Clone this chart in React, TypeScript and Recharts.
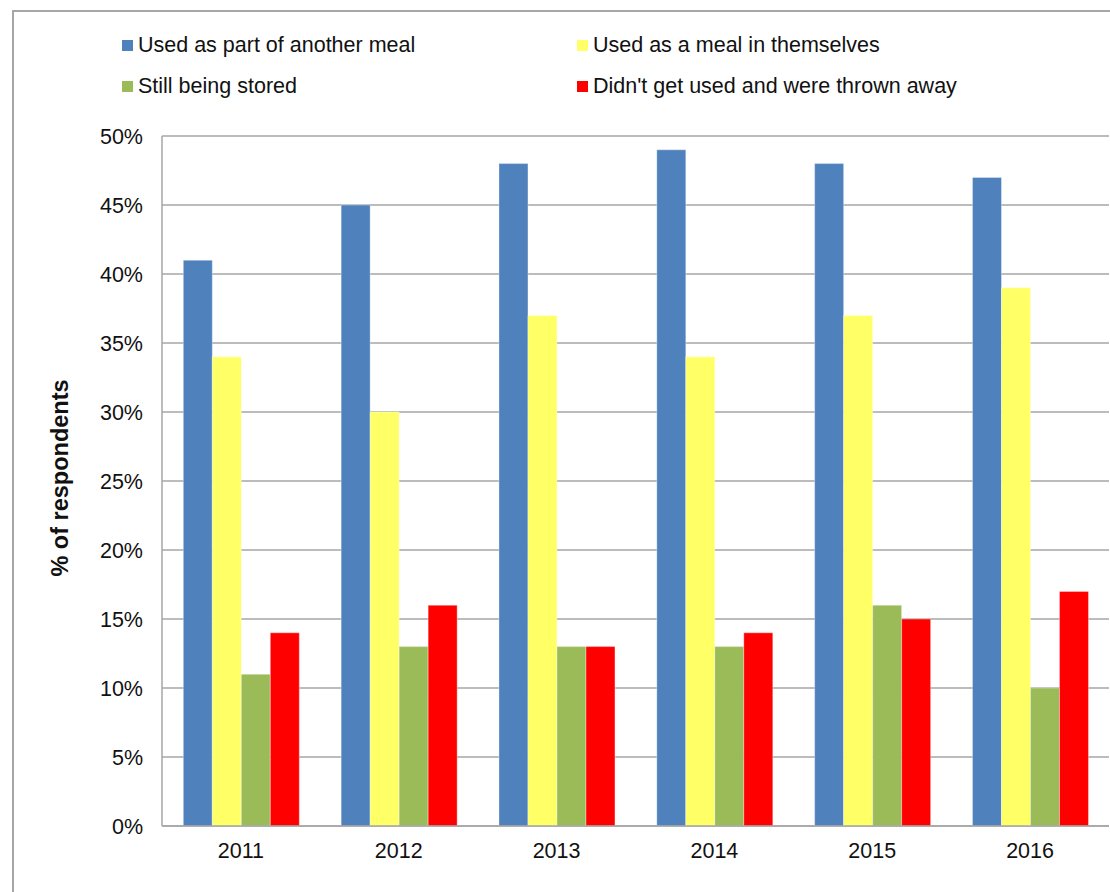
import React from 'react';
import { BarChart, Bar, XAxis, YAxis, CartesianGrid, Legend, Label } from 'recharts';

const years = ['2011', '2012', '2013', '2014', '2015', '2016'];
const usedAsPart = [41, 45, 48, 49, 48, 47];
const usedAsMeal = [34, 30, 37, 34, 37, 39];
const stillStored = [11, 13, 13, 13, 16, 10];
const thrownAway = [14, 16, 13, 14, 15, 17];
const yTicks = [0, 5, 10, 15, 20, 25, 30, 35, 40, 45, 50];

const seriesNames = [
  'Used as part of another meal',
  'Used as a meal in themselves',
  'Still being stored',
  "Didn't get used and were thrown away",
];
const seriesColors = ['#4F81BD', '#FFFF66', '#9BBB59', '#FF0000'];
const seriesKeys = ['part', 'meal', 'stored', 'thrown'];

const data = years.map((year, i) => ({
  year,
  part: usedAsPart[i],
  meal: usedAsMeal[i],
  stored: stillStored[i],
  thrown: thrownAway[i],
}));

const FONT = '"Liberation Sans", Arial, sans-serif';

// legend layout: 2x2 grid (blue, yellow / green, red)
const legendPos = [
  { left: 122, top: 45 },
  { left: 577, top: 45 },
  { left: 122, top: 86 },
  { left: 577, top: 86 },
];

const renderLegend = (props: any) => {
  const payload = props.payload || [];
  return (
    <div style={{ position: 'relative', width: 1110, height: 0 }}>
      {payload.map((p: any, j: number) => {
        let i = seriesNames.indexOf(p.value);
        if (i < 0) i = j;
        return (
          <div
            key={p.value}
            style={{
              position: 'absolute',
              left: legendPos[i].left,
              top: legendPos[i].top - 14,
              height: 28,
              display: 'flex',
              alignItems: 'center',
              whiteSpace: 'nowrap',
              fontFamily: FONT,
              fontSize: 21.5,
              color: '#111',
            }}
          >
            <span
              style={{
                display: 'inline-block',
                width: 11,
                height: 11,
                background: seriesColors[i],
                marginRight: 5,
              }}
            />
            <span>{p.value}</span>
          </div>
        );
      })}
    </div>
  );
};

export default function App() {
  return (
    <div
      style={{
        position: 'absolute',
        left: 0,
        top: 0,
        width: 1110,
        height: 892,
        background: '#fff',
        overflow: 'hidden',
      }}
    >
      <div
        style={{
          position: 'absolute',
          left: 12,
          top: 10,
          width: 1120,
          height: 900,
          borderTop: '2px solid #a6a6a6',
          borderLeft: '2px solid #a6a6a6',
        }}
      />
      <div style={{ position: 'absolute', left: 0, top: 0 }}>
        <BarChart
          width={1110}
          height={892}
          data={data}
          margin={{ top: 136, right: 1, bottom: 36, left: 0 }}
          barCategoryGap="13.5%"
          barGap={0}
        >
          <CartesianGrid vertical={false} stroke="#a6a6a6" strokeWidth={1.5} />
          <XAxis
            dataKey="year"
            height={30}
            tickLine={false}
            tickSize={0}
            tickMargin={17}
            axisLine={{ stroke: '#a6a6a6', strokeWidth: 1.5 }}
            tick={{ fill: '#111', fontSize: 21.5, fontFamily: FONT }}
          />
          <YAxis
            width={162}
            domain={[0, 50]}
            ticks={yTicks}
            interval={0}
            tickFormatter={(v: number) => `${v}%`}
            tickLine={false}
            tickSize={0}
            tickMargin={19}
            axisLine={{ stroke: '#a6a6a6', strokeWidth: 1.5 }}
            tick={{ fill: '#111', fontSize: 21.5, fontFamily: FONT }}
          >
            <Label
              value="% of respondents"
              angle={-90}
              position="insideLeft"
              offset={60}
              dy={-3}
              style={{
                textAnchor: 'middle',
                fontWeight: 'bold',
                fontSize: 23.5,
                fontFamily: FONT,
                fill: '#111',
              }}
            />
          </YAxis>
          <Legend
            content={renderLegend}
            wrapperStyle={{ left: 0, top: 0, width: 1110, height: 0 }}
          />
          {seriesKeys.map((k, i) => (
            <Bar
              key={k}
              dataKey={k}
              name={seriesNames[i]}
              fill={seriesColors[i]}
              stroke="rgba(255,255,255,0.35)"
              strokeWidth={1}
              isAnimationActive={false}
            />
          ))}
        </BarChart>
      </div>
    </div>
  );
}
